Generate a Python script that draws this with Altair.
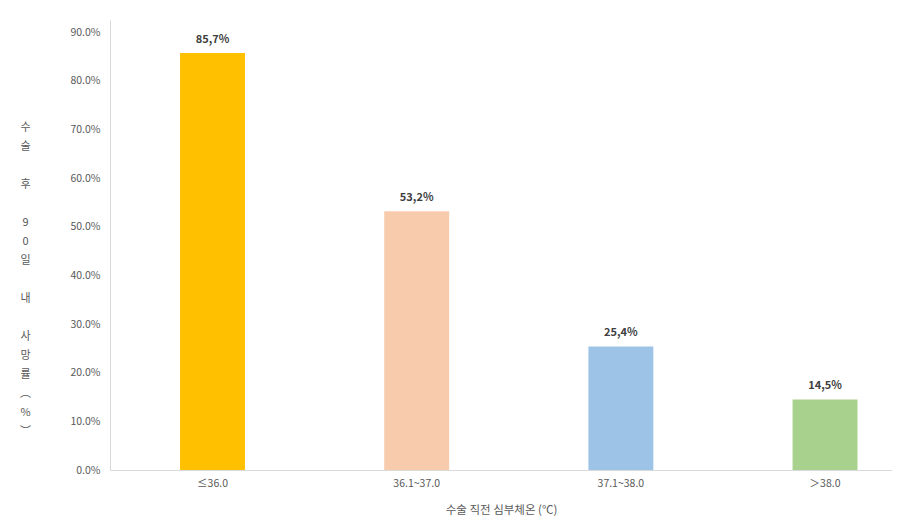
import altair as alt
import pandas as pd

categories = ["≤36.0", "36.1~37.0", "37.1~38.0", "＞38.0"]
values = [85.7, 53.2, 25.4, 14.5]
colors = ["#FFC000", "#F8CBAD", "#9DC3E6", "#A9D18E"]
y_ticks = [0, 10, 20, 30, 40, 50, 60, 70, 80, 90]
x_title = "수술 직전 심부체온 (℃)"
BLANK = "\u2800"
y_title_lines = ["수", "술", BLANK, "후", BLANK, "9", "0", "일", BLANK, "내", BLANK, "사", "망", "률", "︵", "%", "︶"]

df = pd.DataFrame({"cat": categories, "v": values})

FONT = "Noto Sans CJK KR"
GRAY = "#595959"

base = alt.Chart(df)

x_enc = alt.X(
    "cat:N",
    sort=categories,
    scale=alt.Scale(paddingInner=0.682, paddingOuter=0.256, align=0.67),
    axis=alt.Axis(
        title=x_title,
        labelAngle=0,
        labelFontSize=10.5,
        labelColor=GRAY,
        labelPadding=8,
        ticks=False,
        domainColor="#D9D9D9",
        domainWidth=1,
        titleFontSize=11.5,
        titleFontWeight="normal",
        titleColor=GRAY,
        titleY=40,
        titleBaseline="middle",
        labelFont=FONT,
        titleFont=FONT,
    ),
)

y_enc = alt.Y(
    "v:Q",
    scale=alt.Scale(domain=[0, 92.5], nice=False),
    axis=alt.Axis(
        values=y_ticks,
        labelExpr="format(datum.value, '.1f') + '%'",
        labelFontSize=10.5,
        labelColor=GRAY,
        labelPadding=10,
        ticks=False,
        grid=False,
        domainColor="#D9D9D9",
        domainWidth=1,
        title=y_title_lines,
        titleAngle=0,
        titleX=-85,
        titleY=101,
        titleAlign="center",
        titleBaseline="top",
        titleFontSize=11,
        titleFontWeight="normal",
        titleColor=GRAY,
        titleLineHeight=19,
        labelFont=FONT,
        titleFont=FONT,
    ),
)

bars = base.mark_bar().encode(
    x=x_enc,
    y=y_enc,
    color=alt.Color("cat:N", sort=categories,
                    scale=alt.Scale(domain=categories, range=colors), legend=None),
)

labels = base.mark_text(
    baseline="bottom", dy=-8, fontSize=11, fontWeight="bold", color="#404040", font=FONT
).transform_calculate(
    lab="replace(format(datum.v, '.1f'), '.', ',') + '%'"
).encode(
    x=alt.X("cat:N", sort=categories),
    y="v:Q",
    text="lab:N",
)

chart = (
    alt.layer(bars, labels)
    .properties(
        width=782,
        height=450,
        autosize=alt.AutoSizeParams(type="none"),
        padding={"left": 102, "top": 12, "right": 0, "bottom": 46},
        background="white",
    )
    .configure_view(stroke=None)
)

chart.save("out.html", embed_options={"renderer": "svg", "actions": False})
